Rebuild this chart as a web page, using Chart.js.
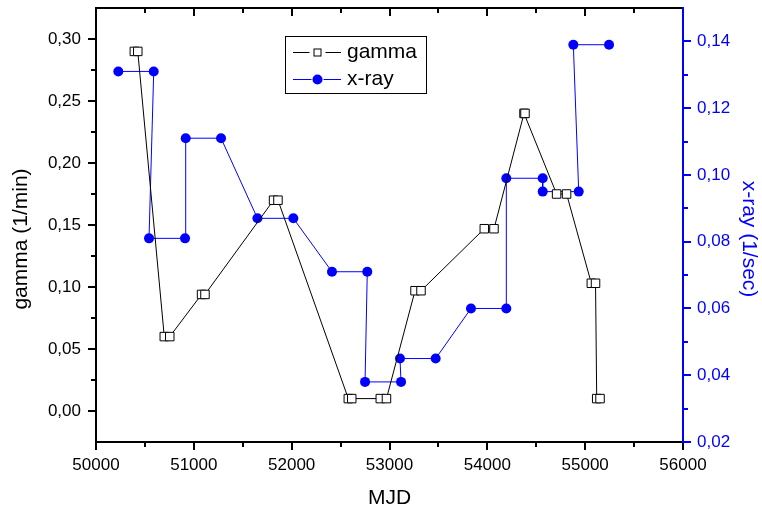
<!DOCTYPE html>
<html>
<head>
<meta charset="utf-8">
<script src="https://cdn.jsdelivr.net/npm/chart.js@4.4.1/dist/chart.umd.min.js"></script>
<style>
  html, body { margin: 0; padding: 0; background: #fff; }
  canvas { display: block; }
</style>
</head>
<body>
<canvas id="chart" width="762" height="511"></canvas>
<script>
(() => {
  // gamma rate (left axis), points come in close pairs
  const gammaMjd = [
    50392, 50427, 50698, 50754, 51079, 51114, 51815, 51860, 52579, 52614, 52906, 52969,
    53261, 53322, 53969, 54068, 54375, 54385, 54708, 54810, 55063, 55106, 55118, 55152,
  ];
  const gammaRate = [
    0.29, 0.29, 0.06, 0.06, 0.094, 0.094, 0.17, 0.17, 0.01, 0.01, 0.01, 0.01,
    0.097, 0.097, 0.147, 0.147, 0.24, 0.24, 0.175, 0.175, 0.103, 0.103, 0.01, 0.01,
  ];

  // x-ray rate (right axis)
  const xrayMjd = [
    50228, 50590, 50542, 50910, 50917, 51278, 51650, 52017, 52412, 52773, 52750,
    53118, 53107, 53472, 53833, 54194, 54194, 54566, 54566, 54934, 54879, 55244,
  ];
  const xrayRate = [
    0.131, 0.131, 0.081, 0.081, 0.111, 0.111, 0.087, 0.087, 0.071, 0.071, 0.038,
    0.038, 0.045, 0.045, 0.06, 0.06, 0.099, 0.099, 0.095, 0.095, 0.139, 0.139,
  ];

  const mjdTicks = [50000, 51000, 52000, 53000, 54000, 55000, 56000];
  const gammaTicks = [0, 0.05, 0.1, 0.15, 0.2, 0.25, 0.3];
  const xrayTicks = [0.02, 0.04, 0.06, 0.08, 0.1, 0.12, 0.14];

  const blue = "#0000ff";
  const font = "'Liberation Sans', Arial, sans-serif";
  const comma = (v) => v.toFixed(2).replace(".", ",");

  const line = (ctx, x1, y1, x2, y2) => {
    ctx.beginPath();
    ctx.moveTo(x1, y1);
    ctx.lineTo(x2, y2);
    ctx.stroke();
  };

  // frame, major + minor ticks, y titles and the legend
  const decorations = {
    id: "decorations",
    afterDraw(chart) {
      const { ctx, chartArea: a } = chart;
      const { x, y, y1 } = chart.scales;
      ctx.save();
      ctx.lineWidth = 2;
      ctx.strokeStyle = "#000";
      ctx.beginPath();
      ctx.moveTo(a.right, a.top);
      ctx.lineTo(a.left, a.top);
      ctx.lineTo(a.left, a.bottom);
      ctx.lineTo(a.right, a.bottom);
      ctx.stroke();

      for (let k = 0; k <= 12; k++) {
        const px = Math.round(x.getPixelForValue(50000 + k * 500));
        const len = k % 2 ? 5 : 8;
        line(ctx, px, a.bottom, px, a.bottom + len);
        line(ctx, px, a.top, px, a.top + len);
      }
      for (let k = 0; k <= 12; k++) {
        const py = Math.round(y.getPixelForValue(k * 0.025));
        const len = k % 2 ? 5 : 8;
        line(ctx, a.left - len, py, a.left, py);
      }

      ctx.strokeStyle = blue;
      line(ctx, a.right, a.top - 1, a.right, a.bottom + 1);
      for (let k = 0; k <= 12; k++) {
        const py = Math.round(y1.getPixelForValue(0.02 + k * 0.01));
        const len = k % 2 ? 5 : 8;
        line(ctx, a.right, py, a.right + len, py);
      }

      ctx.font = `21px ${font}`;
      ctx.textAlign = "center";
      ctx.textBaseline = "middle";
      ctx.fillStyle = "#000";
      ctx.save();
      ctx.translate(21.5, 239);
      ctx.rotate(-Math.PI / 2);
      ctx.fillText("gamma (1/min)", 0, 0);
      ctx.restore();
      ctx.fillStyle = blue;
      ctx.save();
      ctx.translate(749, 239);
      ctx.rotate(Math.PI / 2);
      ctx.fillText("x-ray (1/sec)", 0, 0);
      ctx.restore();

      // legend
      const lx = a.left + 189;
      const ly = a.top + 28;
      ctx.lineWidth = 1;
      ctx.strokeStyle = "#000";
      ctx.strokeRect(lx + 0.5, ly + 0.5, 141, 57);
      chart.data.datasets.forEach((ds, i) => {
        const cy = ly + 16.5 + i * 27;
        const mx = lx + 32.5;
        const gap = ds.pointStyle === "rect" ? 8 : 6;
        ctx.strokeStyle = ds.borderColor;
        ctx.lineWidth = 1;
        line(ctx, lx + 8, cy, mx - gap, cy);
        line(ctx, mx + gap, cy, lx + 56, cy);
        if (ds.pointStyle === "rect") {
          ctx.fillStyle = "#fff";
          ctx.fillRect(mx - 3.5, cy - 3.5, 7, 7);
          ctx.strokeRect(mx - 3.5, cy - 3.5, 7, 7);
        } else {
          ctx.fillStyle = ds.pointBackgroundColor;
          ctx.beginPath();
          ctx.arc(mx, cy, 5, 0, Math.PI * 2);
          ctx.fill();
        }
        ctx.fillStyle = "#000";
        ctx.textAlign = "left";
        ctx.fillText(ds.label, lx + 62, cy);
      });
      ctx.restore();
    },
  };

  const setTicks = (values) => (scale) => {
    scale.ticks = values.map((v) => ({ value: v }));
  };
  // fixed box sizes, and no extra room for the end labels
  const fitVertical = (width) => (s) => {
    s.width = width;
    s.paddingTop = 0;
    s.paddingBottom = 0;
  };

  new Chart(document.getElementById("chart"), {
    type: "scatter",
    data: {
      datasets: [
        {
          label: "gamma",
          data: gammaMjd.map((m, i) => ({ x: m, y: gammaRate[i] })),
          yAxisID: "y",
          showLine: true,
          borderColor: "#000",
          borderWidth: 1,
          pointStyle: "rect",
          pointRadius: 6,
          pointBackgroundColor: "#fff",
          pointBorderColor: "#000",
          pointBorderWidth: 1,
        },
        {
          label: "x-ray",
          data: xrayMjd.map((m, i) => ({ x: m, y: xrayRate[i] })),
          yAxisID: "y1",
          showLine: true,
          borderColor: blue,
          borderWidth: 1,
          pointStyle: "circle",
          pointRadius: 5,
          pointBackgroundColor: blue,
          pointBorderColor: blue,
          pointBorderWidth: 0,
        },
      ],
    },
    options: {
      responsive: false,
      animation: false,
      devicePixelRatio: 1,
      layout: { padding: { top: 8, left: 0, right: 0, bottom: 0 } },
      plugins: { legend: { display: false }, tooltip: { enabled: false } },
      scales: {
        x: {
          type: "linear",
          position: "bottom",
          min: 50000,
          max: 56000,
          afterBuildTicks: setTicks(mjdTicks),
          afterFit: (s) => {
            s.height = 69;
            s.paddingLeft = 0;
            s.paddingRight = 0;
          },
          grid: { display: false, drawTicks: false },
          border: { display: false },
          ticks: {
            callback: (v) => String(v),
            color: "#000",
            font: { family: font, size: 17 },
            padding: 13,
            maxRotation: 0,
            autoSkip: false,
          },
          title: {
            display: true,
            text: "MJD",
            color: "#000",
            font: { family: font, size: 21, lineHeight: 1.2 },
            padding: { top: 0, bottom: 0 },
          },
        },
        y: {
          type: "linear",
          position: "left",
          min: -0.025,
          max: 0.325,
          afterBuildTicks: setTicks(gammaTicks),
          afterFit: fitVertical(96),
          grid: { display: false, drawTicks: false },
          border: { display: false },
          ticks: {
            callback: (v) => comma(v),
            color: "#000",
            font: { family: font, size: 17 },
            padding: 15,
            autoSkip: false,
          },
        },
        y1: {
          type: "linear",
          position: "right",
          min: 0.02,
          max: 0.15,
          afterBuildTicks: setTicks(xrayTicks),
          afterFit: fitVertical(79),
          grid: { display: false, drawTicks: false },
          border: { display: false },
          ticks: {
            callback: (v) => comma(v),
            color: blue,
            font: { family: font, size: 17 },
            padding: 14,
            autoSkip: false,
          },
        },
      },
    },
    plugins: [decorations],
  });
})();
</script>
</body>
</html>
